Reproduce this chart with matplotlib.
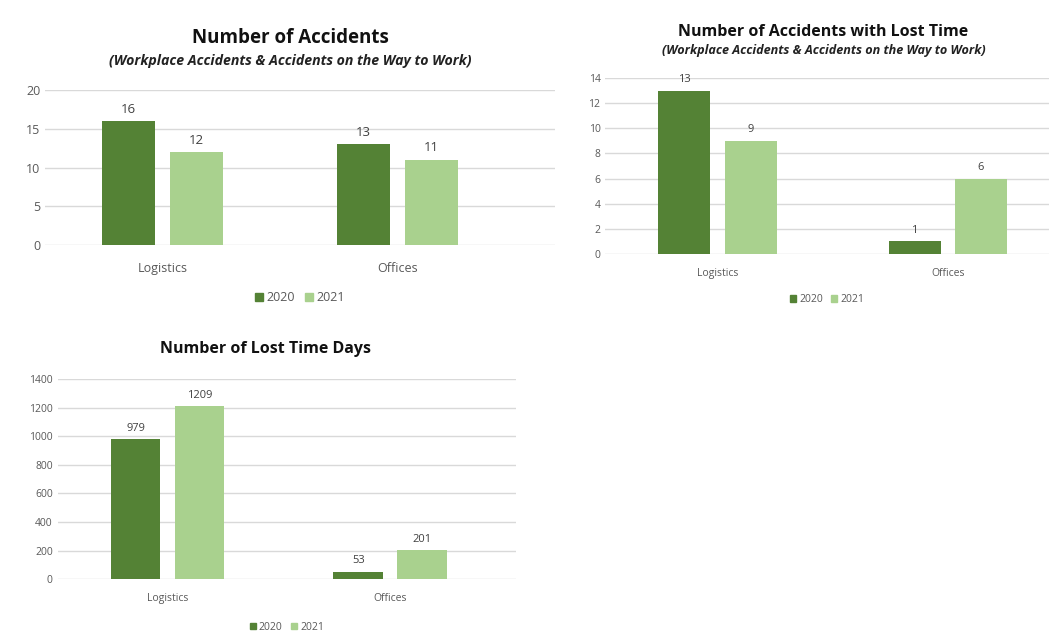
import numpy as np
import matplotlib.pyplot as plt
from matplotlib.patches import Patch

plt.rcParams['font.family'] = ['Open Sans', 'DejaVu Sans']

# Data
categories = ['Logistics', 'Offices']
years = ['2020', '2021']

accidents_2020 = [16, 13]
accidents_2021 = [12, 11]

lost_time_2020 = [13, 1]
lost_time_2021 = [9, 6]

lost_days_2020 = [979, 53]
lost_days_2021 = [1209, 201]

dark_green = '#548235'
light_green = '#A9D18E'
grid_color = '#D9D9D9'
text_color = '#595959'

fig = plt.figure(figsize=(10.49, 6.35), dpi=100)


def draw_chart(rect, vals_a, vals_b, ymax, ystep, xlim, width, offset,
               fs_tick, fs_label, legend_y, xpad):
    ax = fig.add_axes(rect)
    x = np.arange(len(categories))
    b1 = ax.bar(x - offset, vals_a, width, color=dark_green, zorder=3)
    b2 = ax.bar(x + offset, vals_b, width, color=light_green, zorder=3)
    for bars in (b1, b2):
        ax.bar_label(bars, padding=4, fontsize=fs_label, color='#404040')
    ax.set_xlim(*xlim)
    ax.set_ylim(0, ymax)
    ax.set_yticks(np.arange(0, ymax + ystep / 2, ystep))
    ax.yaxis.grid(True, color=grid_color, linewidth=1, zorder=0)
    ax.set_xticks(x)
    ax.set_xticklabels(categories)
    ax.tick_params(axis='both', length=0, labelsize=fs_tick, colors=text_color)
    ax.tick_params(axis='x', pad=xpad)
    for s in ax.spines.values():
        s.set_visible(False)
    handles = [Patch(color=dark_green, label=years[0]),
               Patch(color=light_green, label=years[1])]
    ax.legend(handles=handles, loc='center', bbox_to_anchor=(0.5, legend_y),
              ncol=2, frameon=False, fontsize=fs_tick, handlelength=0.6,
              handleheight=0.6, handletextpad=0.3, columnspacing=0.8,
              labelcolor=text_color)
    return ax


# Number of Accidents
draw_chart([0.043, 0.614, 0.486, 0.244], accidents_2020, accidents_2021,
           20, 5, (-0.5, 1.67), 0.225, 0.145, 9, 9.5, -0.34, 12)
fig.text(0.277, 0.94, 'Number of Accidents', ha='center', va='center',
         fontsize=13.5, fontweight='bold', color='#111111')
fig.text(0.277, 0.904, '(Workplace Accidents & Accidents on the Way to Work)',
         ha='center', va='center', fontsize=10.2, fontweight='bold',
         style='italic', color='#222222')

# Number of Accidents with Lost Time
draw_chart([0.577, 0.6, 0.423, 0.277], lost_time_2020, lost_time_2021,
           14, 2, (-0.488, 1.44), 0.226, 0.144, 7.5, 8, -0.26, 10)
fig.text(0.785, 0.95, 'Number of Accidents with Lost Time', ha='center',
         va='center', fontsize=11.5, fontweight='bold', color='#111111')
fig.text(0.785, 0.92, '(Workplace Accidents & Accidents on the Way to Work)',
         ha='center', va='center', fontsize=9.1, fontweight='bold',
         style='italic', color='#222222')

# Number of Lost Time Days
draw_chart([0.055, 0.088, 0.437, 0.315], lost_days_2020, lost_days_2021,
           1400, 200, (-0.493, 1.565), 0.224, 0.1435, 7.5, 8, -0.24, 10)
fig.text(0.253, 0.45, 'Number of Lost Time Days', ha='center', va='center',
         fontsize=11.5, fontweight='bold', color='#111111')

fig.savefig('out.png', dpi=100, facecolor='white')
